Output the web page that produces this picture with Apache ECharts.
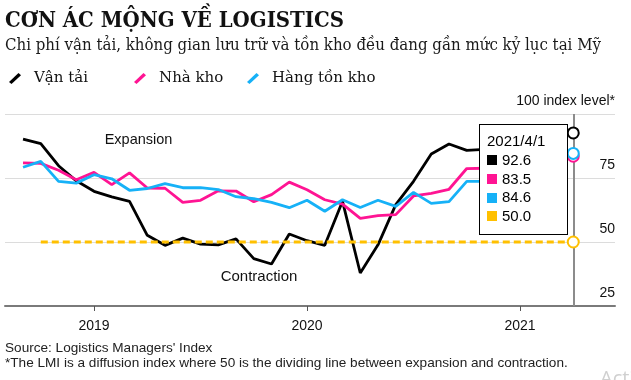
<!DOCTYPE html>
<html>
<head>
<meta charset="utf-8">
<script src="https://cdn.jsdelivr.net/npm/echarts@6/dist/echarts.min.js"></script>
<style>
  html, body { margin: 0; padding: 0; background: #fff; }
  #chart { width: 631px; height: 380px; }
</style>
</head>
<body>
<div id="chart"></div>
<script>
// ---- data ----
const months = [
  '2018-09','2018-10','2018-11','2018-12',
  '2019-01','2019-02','2019-03','2019-04','2019-05','2019-06','2019-07','2019-08','2019-09','2019-10','2019-11','2019-12',
  '2020-01','2020-02','2020-03','2020-04','2020-05','2020-06','2020-07','2020-08','2020-09','2020-10','2020-11','2020-12',
  '2021-01','2021-02','2021-03','2021-04'
];
const transport = [90.2, 88.4, 79.8, 73.9,
  69.8, 67.6, 65.9, 52.6, 48.7, 51.5, 49.2, 48.9, 51.2, 43.5, 41.4, 53.1,
  50.5, 48.7, 65.9, 37.9, 48.9, 64.6, 73.7, 84.4, 88.3, 85.8, 86.2, 86.0,
  87.5, 89.5, 91.5, 92.6];
const warehouse = [80.9, 80.7, 78.0, 74.3,
  77.2, 72.4, 77.0, 71.1, 71.0, 65.5, 66.3, 70.0, 69.9, 65.7, 68.5, 73.4,
  70.4, 66.5, 64.8, 59.2, 60.3, 60.7, 68.0, 69.0, 70.6, 78.7, 78.8, 80.0,
  81.5, 83.0, 83.8, 83.5];
const inventory = [79.2, 81.5, 73.7, 73.0,
  76.3, 74.7, 70.2, 70.9, 72.8, 71.2, 71.2, 70.5, 67.7, 66.9, 65.5, 63.4,
  66.3, 62.0, 66.5, 63.5, 66.3, 63.9, 69.4, 65.1, 65.8, 73.7, 73.7, 75.0,
  78.0, 81.0, 85.0, 84.6];
const threshold = [null, 50, 50, 50,
  50, 50, 50, 50, 50, 50, 50, 50, 50, 50, 50, 50,
  50, 50, 50, 50, 50, 50, 50, 50, 50, 50, 50, 50,
  50, 50, 50, 50];
const seriesNames = ['Vận tải', 'Nhà kho', 'Hàng tồn kho', 'LMI 50'];
const yearTicks = [2019, 2020, 2021];
const yMin = 25, yMax = 100, yStep = 25;

const TITLE = 'CƠN ÁC MỘNG VỀ LOGISTICS';
const SUBTITLE = 'Chi phí vận tải, không gian lưu trữ và tồn kho đều đang gần mức kỷ lục tại Mỹ';
const SOURCE = "Source: Logistics Managers' Index";
const NOTE = '*The LMI is a diffusion index where 50 is the dividing line between expansion and contraction.';

// ---- styling ----
const colors = ['#000000', '#ff1493', '#16b1f7', '#ffc000'];
const SANS = "'Liberation Sans', Arial, sans-serif";
const SERIF = "'DejaVu Serif', serif";

function toX(s) { const p = s.split('-').map(Number); return p[0] + (p[1] - 1) / 12; }
function build(vals) {
  const out = [];
  vals.forEach((v, i) => {
    if (v == null) return;
    const item = { value: [toX(months[i]), v] };
    if (i === vals.length - 1) {
      item.symbol = 'emptyCircle';
      item.symbolSize = 10;
      item.itemStyle = { borderWidth: 1.6 };
    }
    out.push(item);
  });
  return out;
}

const measure = document.createElement('canvas').getContext('2d');
function fitScale(text, font, target) { measure.font = font; return target / measure.measureText(text).width; }
const titleFont = "bold 22px 'DejaVu Serif'";
const subFont = "16px 'DejaVu Serif'";
const titleScale = fitScale(TITLE, titleFont, 339);
const subScale = fitScale(SUBTITLE, subFont, 596);

const chart = echarts.init(document.getElementById('chart'), null, { renderer: 'canvas' });
const legendCommon = {
  icon: 'path://M0,9 L9.5,0 L12,2.2 L2.5,11 Z',
  itemWidth: 12, itemHeight: 11, top: 66, selectedMode: false,
  textStyle: { fontFamily: SERIF, fontSize: 15, color: '#111', padding: [0, 0, 0, 8] }
};
const dataLists = [transport, warehouse, inventory, threshold];
const option = {
  animation: false,
  textStyle: { fontFamily: SANS },
  grid: { left: 5, right: 16, top: 114, bottom: 74 },
  legend: [
    Object.assign({ data: [seriesNames[0]], left: 4 }, legendCommon),
    Object.assign({ data: [seriesNames[1]], left: 129 }, legendCommon),
    Object.assign({ data: [seriesNames[2]], left: 242 }, legendCommon)
  ],
  tooltip: {
    trigger: 'axis', triggerOn: 'none', alwaysShowContent: true,
    position: [479, 124], transitionDuration: 0,
    backgroundColor: '#fff', borderColor: '#000', borderWidth: 1,
    padding: [6, 22, 8, 7],
    textStyle: { fontFamily: SANS, fontSize: 15, color: '#000' },
    extraCssText: 'box-shadow:none;border-radius:0;white-space:nowrap;',
    axisPointer: { type: 'line', z: 1, animation: false, label: { show: false },
      lineStyle: { color: '#8c8c8c', width: 2, type: 'solid' } },
    formatter: function (params) {
      const x = params[0].value[0];
      const yr = Math.floor(x + 1e-6);
      const mo = Math.round((x - yr) * 12) + 1;
      let html = '<div style="line-height:19px;margin-bottom:1px">' + yr + '/' + mo + '/1</div>';
      params.forEach(p => {
        html += '<div style="display:flex;align-items:center;height:18.7px;line-height:18.7px">' +
          '<span style="display:inline-block;width:10px;height:10px;background:' + colors[p.seriesIndex] +
          ';margin-right:5px"></span>' + p.value[1].toFixed(1) + '</div>';
      });
      return html;
    }
  },
  xAxis: {
    type: 'value', min: 2018.582, max: 2021.446,
    splitLine: { show: false },
    axisLine: { onZero: false, lineStyle: { color: '#7a7a7a', width: 2 } },
    axisTick: { customValues: yearTicks, length: 5, lineStyle: { color: '#555', width: 1 } },
    axisLabel: { customValues: yearTicks, formatter: v => String(Math.round(v)), margin: 13,
      fontSize: 14, color: '#111', fontFamily: SANS },
    axisPointer: { z: 1 }
  },
  yAxis: {
    type: 'value', position: 'right', min: yMin, max: yMax, interval: yStep,
    axisLine: { show: false }, axisTick: { show: false },
    splitLine: { lineStyle: { color: '#dcdcdc', width: 1 } },
    axisLabel: { inside: true, margin: 0, verticalAlign: 'bottom', padding: [0, 0, 6, 0],
      showMinLabel: true, showMaxLabel: true,
      fontSize: 14, color: '#111', fontFamily: SANS,
      formatter: v => v === yMax ? yMax + ' index level*' : String(v) }
  },
  series: dataLists.map((vals, i) => ({
    name: seriesNames[i], type: 'line', data: build(vals),
    symbol: 'none', showSymbol: true, color: colors[i],
    lineStyle: { width: i === 3 ? 3 : 2.8, color: colors[i], type: i === 3 ? [7, 4] : 'solid' },
    emphasis: { disabled: true }, z: 2 + i
  })),
  graphic: [
    { type: 'text', x: 5, y: 21.5, scaleX: titleScale,
      style: { text: TITLE, font: titleFont, fill: '#111', verticalAlign: 'middle' } },
    { type: 'text', x: 5, y: 45.5, scaleX: subScale,
      style: { text: SUBTITLE, font: subFont, fill: '#1a1a1a', verticalAlign: 'middle' } },
    { type: 'text', x: 138.5, y: 139.5,
      style: { text: 'Expansion', font: "14.5px 'Liberation Sans'", fill: '#111', align: 'center', verticalAlign: 'middle' } },
    { type: 'text', x: 259, y: 277,
      style: { text: 'Contraction', font: "15px 'Liberation Sans'", fill: '#111', align: 'center', verticalAlign: 'middle' } },
    { type: 'text', x: 5, y: 348.5,
      style: { text: SOURCE, font: "13.6px 'Liberation Sans'", fill: '#222', verticalAlign: 'middle' } },
    { type: 'text', x: 5, y: 363.5,
      style: { text: NOTE, font: "13.6px 'Liberation Sans'", fill: '#222', verticalAlign: 'middle' } },
    { type: 'text', x: 600, y: 369,
      style: { text: 'Activate Windows', font: "20px 'Open Sans'", fill: '#d0d0d0', verticalAlign: 'top' } }
  ]
};
chart.setOption(option);
chart.dispatchAction({ type: 'showTip', seriesIndex: 0, dataIndex: months.length - 1 });
</script>
</body>
</html>
